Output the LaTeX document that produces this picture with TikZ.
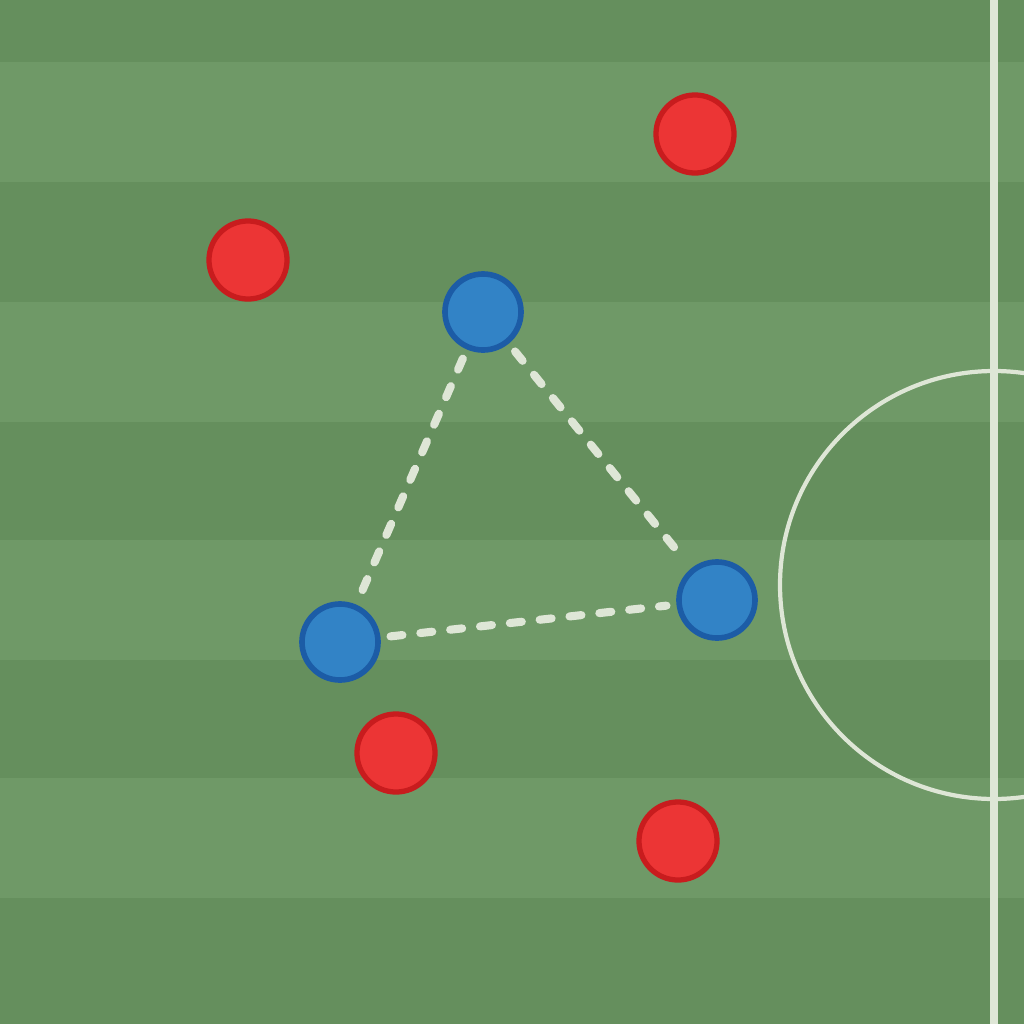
\documentclass[tikz,border=0pt]{standalone}
\usepackage{tikz}
\usetikzlibrary{positioning}

\definecolor{grassdark}{RGB}{101,143,93}
\definecolor{grasslight}{RGB}{111,153,103}
\definecolor{chalk}{RGB}{222,230,214}
\definecolor{bluefill}{RGB}{50,131,198}
\definecolor{blueedge}{RGB}{28,92,166}
\definecolor{redfill}{RGB}{236,53,53}
\definecolor{rededge}{RGB}{200,28,30}

\tikzset{
	blueplayer/.style = {circle, draw = blueedge, fill = bluefill, line width = 1.6pt, minimum size = 0.76cm, inner sep = 0pt},
	redplayer/.style = {circle, draw = rededge, fill = redfill, line width = 1.5pt, minimum size = 0.78cm, inner sep = 0pt},
	passline/.style = {chalk, line width = 2.3pt, line cap = round, dash pattern = on 1.2mm off 1.8mm, shorten <= 0.1cm, shorten >= 0.1cm}
}

\begin{document}
\begin{tikzpicture}[x = 0.01cm, y = -0.01cm]

\useasboundingbox (0, 0) rectangle (1024, 1024);

\fill[grassdark] (0, 0) rectangle (1024, 1024);
\foreach \y in {62, 302, 540, 778}
	\fill[grasslight] (0, \y) rectangle (1024, \y + 120);

\draw[chalk, line width = 2pt] (994, 0) -- (994, 1024);
\draw[chalk, line width = 1.2pt] (994, 585) circle [radius = 214];

\node[redplayer] (R1) at (695, 134) {};
\node[redplayer] (R2) at (248, 260) {};
\node[redplayer] (R3) at (396, 753) {};
\node[redplayer] (R4) at (678, 841) {};

\node[blueplayer] (B1) at (483, 312) {};
\node[blueplayer] (B2) at (340, 642) {};
\node[blueplayer] (B3) at (717, 600) {};

\draw[passline] (B1) -- (B2);
\draw[passline] (B1) -- (B3);
\draw[passline] (B2) -- (B3);

\end{tikzpicture}
\end{document}
